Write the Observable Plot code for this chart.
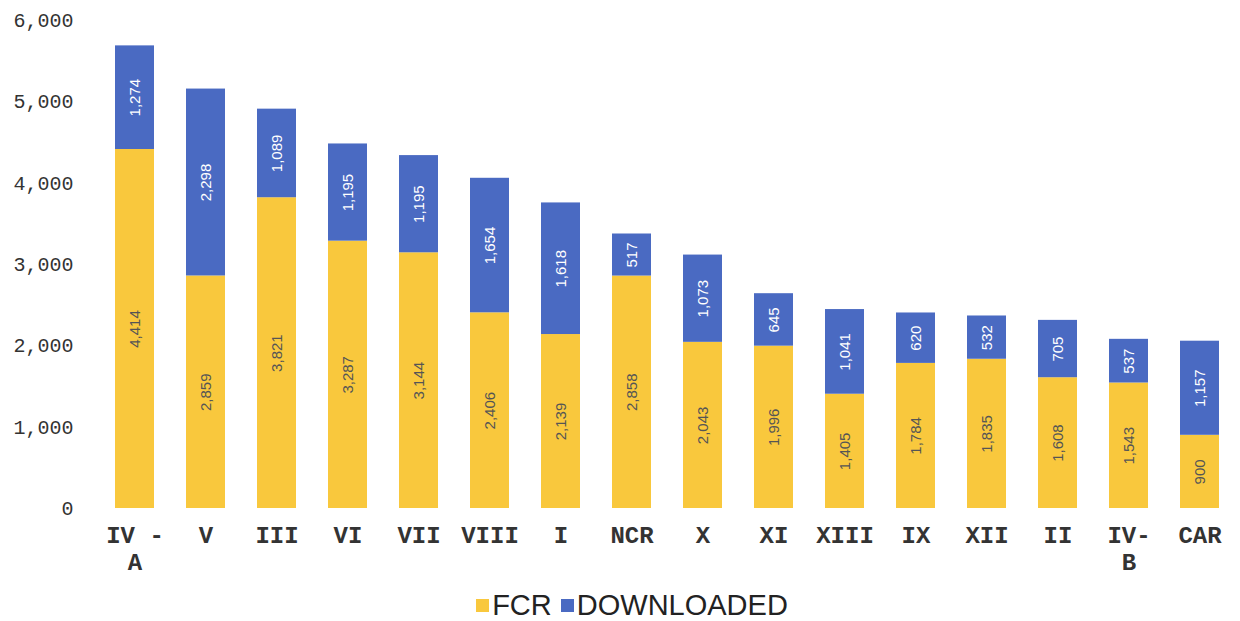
<!DOCTYPE html>
<html><head><meta charset="utf-8">
<script src="https://cdn.jsdelivr.net/npm/d3@7"></script>
<script src="https://cdn.jsdelivr.net/npm/@observablehq/plot@0.6"></script>
<style>
body{margin:0;background:#fff;width:1240px;height:621px;overflow:hidden}
#legend{display:flex;justify-content:center;align-items:center;gap:9px;font-family:"Liberation Sans",Arial,sans-serif;font-size:29px;color:#222;height:31px;padding-left:24px}
#legend .item{display:flex;align-items:center;gap:3px}
#legend .sw{width:13px;height:13px;display:inline-block}
</style>
</head><body>
<div id="chart"></div>
<div id="legend"></div>
<script>
const regions = ["IV - A","V","III","VI","VII","VIII","I","NCR","X","XI","XIII","IX","XII","II","IV- B","CAR"];
const tickLabels = ["IV -\nA","V","III","VI","VII","VIII","I","NCR","X","XI","XIII","IX","XII","II","IV-\nB","CAR"];
const fcr = [4414,2859,3821,3287,3144,2406,2139,2858,2043,1996,1405,1784,1835,1608,1543,900];
const downloaded = [1274,2298,1089,1195,1195,1654,1618,517,1073,645,1041,620,532,705,537,1157];
const seriesNames = ["FCR","DOWNLOADED"];
const seriesColors = ["#F9C83D","#4A6AC2"];
const labelColors = ["#555555","#ffffff"];
const yTicks = [0,1000,2000,3000,4000,5000,6000];

const rows = [];
regions.forEach((r,i)=>{
  rows.push({region:r, series:"FCR", value:fcr[i]});
  rows.push({region:r, series:"DOWNLOADED", value:downloaded[i]});
});
const fmt = d3.format(",");
const mono = "'Liberation Mono','Courier New',monospace";
const sans = "'Liberation Sans',Arial,sans-serif";

const stackOpts = {x:"region", y:"value", z:"series", order: seriesNames};

const labelMarks = seriesNames.map((s,i)=>
  Plot.text(rows, Plot.stackY({...stackOpts, text:d=>d.series===s?fmt(d.value):"", rotate:-90, fill:labelColors[i], fontSize:15, fontFamily:sans}))
);

const plot = Plot.plot({
  width:1240, height:590, marginTop:20, marginBottom:82, marginLeft:95, marginRight:1,
  style:{background:"#fff"},
  x:{domain:regions, paddingInner:0.45, paddingOuter:0.17, label:null},
  y:{domain:[0,6000], label:null},
  color:{domain:seriesNames, range:seriesColors},
  marks:[
    Plot.barY(rows, Plot.stackY({...stackOpts, fill:"series"})),
    ...labelMarks,
    Plot.axisY({ticks:yTicks, tickFormat:fmt, tickSize:0, tickPadding:22, fontSize:20, fontFamily:mono, fill:"#333", label:null}),
    Plot.axisX({tickSize:0, tickPadding:16, fontSize:24, fontWeight:"bold", fontFamily:mono, fill:"#333", lineHeight:1.1, label:null,
      tickFormat:d=>tickLabels[regions.indexOf(d)]})
  ]
});
document.getElementById("chart").appendChild(plot);

const lg = document.getElementById("legend");
seriesNames.forEach((s,i)=>{
  const it = document.createElement("span"); it.className="item";
  const sw = document.createElement("span"); sw.className="sw"; sw.style.background=seriesColors[i];
  const tx = document.createElement("span"); tx.textContent=s;
  it.appendChild(sw); it.appendChild(tx); lg.appendChild(it);
});
</script>
</body></html>
